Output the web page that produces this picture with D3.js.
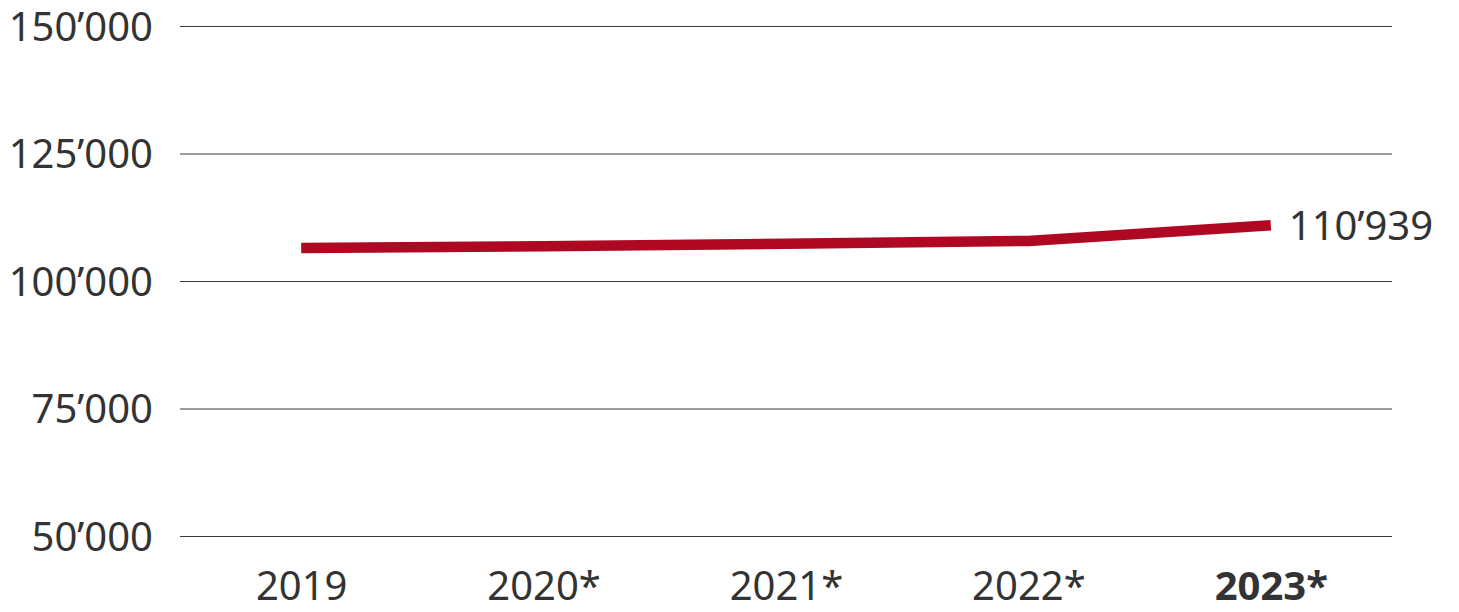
<!DOCTYPE html>
<html>
<head>
<meta charset="utf-8">
<script src="https://cdn.jsdelivr.net/npm/d3@7"></script>
<style>
  html, body { margin: 0; padding: 0; background: #fff; }
  svg, svg text { font-family: "Noto Sans", "Open Sans", sans-serif; }
  svg { display: block; }
</style>
</head>
<body>
<svg id="chart" width="1459" height="612"></svg>
<script>
const categories = ["2019", "2020*", "2021*", "2022*", "2023*"];
const values = [106470, 106810, 107300, 107850, 110939];
const yTicks = [50000, 75000, 100000, 125000, 150000];
const boldCategories = ["2023*"];

const plotLeft = 180, plotRight = 1392, plotTop = 26, plotBottom = 536;
const fontStack = '"Noto Sans", "Open Sans", sans-serif';

const loc = d3.formatLocale({ decimal: ".", thousands: "\u2019", grouping: [3], currency: ["", ""] });
const fmt = loc.format(",d");

const svg = d3.select("#chart");

const x = d3.scalePoint().domain(categories).range([plotLeft, plotRight]).padding(0.5);
const y = d3.scaleLinear().domain([50000, 150000]).range([plotBottom, plotTop]);

// Y axis with gridlines
const yAxis = svg.append("g")
  .attr("transform", `translate(${plotLeft},0)`)
  .call(d3.axisLeft(y).tickValues(yTicks).tickFormat(fmt).tickSize(-(plotRight - plotLeft)).tickPadding(27))
  .attr("font-family", fontStack)
  .attr("font-size", 40);
yAxis.select(".domain").remove();
yAxis.selectAll(".tick line").attr("stroke", "#3a3a3a").attr("stroke-width", 1.2);
yAxis.selectAll(".tick text")
  .attr("fill", "#333")
  .attr("dy", "0.36em");

// X axis labels
const xAxis = svg.append("g")
  .attr("transform", `translate(0,${plotBottom})`)
  .call(d3.axisBottom(x).tickSize(0).tickPadding(36))
  .attr("font-family", fontStack)
  .attr("font-size", 40);
xAxis.select(".domain").remove();
xAxis.selectAll(".tick text")
  .attr("fill", "#333")
  .style("font-weight", d => boldCategories.includes(d) ? "700" : "400");

// Line
const line = d3.line().x((d, i) => x(categories[i])).y(d => y(d));
svg.append("path")
  .datum(values)
  .attr("fill", "none")
  .attr("stroke", "#ae0822")
  .attr("stroke-width", 10.5)
  .attr("stroke-linejoin", "round")
  .attr("d", line);

// End label
const last = values.length - 1;
svg.append("text")
  .attr("x", x(categories[last]) + 18)
  .attr("y", y(values[last]))
  .attr("dy", "0.36em")
  .attr("fill", "#333")
  .attr("font-family", fontStack)
  .attr("font-size", 40)
  .text(fmt(values[last]));
</script>
</body>
</html>
